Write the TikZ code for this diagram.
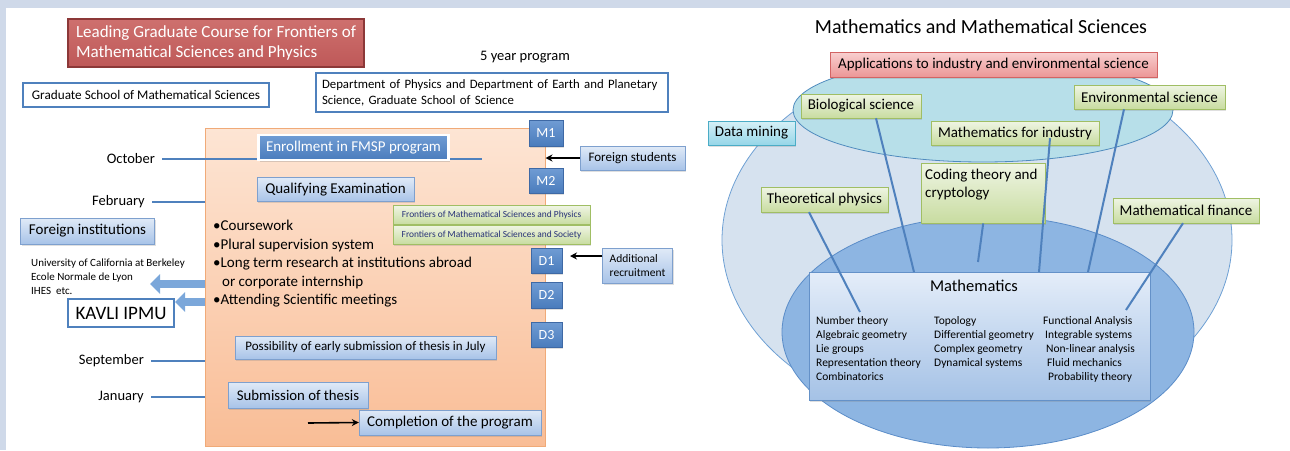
\documentclass[tikz,border=0pt]{standalone}
\usepackage{fontspec}
\setmainfont{Carlito}
\usepackage{tikz}
\usetikzlibrary{arrows.meta,shadows}

\definecolor{band}{RGB}{207,217,233}
\definecolor{lineblue}{RGB}{79,129,189}
\definecolor{ltop}{RGB}{224,234,247}
\definecolor{lbot}{RGB}{168,195,232}
\definecolor{lbord}{RGB}{126,160,206}
\definecolor{dtop}{RGB}{112,156,212}
\definecolor{dbot}{RGB}{74,124,188}
\definecolor{dbord}{RGB}{62,105,165}
\definecolor{otop}{RGB}{253,229,212}
\definecolor{obot}{RGB}{249,189,150}
\definecolor{obord}{RGB}{240,170,120}
\definecolor{gtop}{RGB}{239,245,228}
\definecolor{gbot}{RGB}{200,220,160}
\definecolor{gbord}{RGB}{160,190,100}
\definecolor{rtop}{RGB}{206,112,110}
\definecolor{rbot}{RGB}{190,88,88}
\definecolor{rbord}{RGB}{140,56,56}
\definecolor{ptop}{RGB}{248,208,208}
\definecolor{pbot}{RGB}{236,150,150}
\definecolor{pbord}{RGB}{210,100,100}
\definecolor{ctop}{RGB}{214,240,247}
\definecolor{cbot}{RGB}{150,214,232}
\definecolor{cbord}{RGB}{75,172,198}
\definecolor{mtop}{RGB}{228,237,249}
\definecolor{mbot}{RGB}{165,194,230}
\definecolor{mbord}{RGB}{100,145,200}
\definecolor{outerfill}{RGB}{214,226,239}
\definecolor{outerdraw}{RGB}{110,160,212}
\definecolor{cyanfill}{RGB}{183,223,233}
\definecolor{cyandraw}{RGB}{80,140,190}
\definecolor{innerfill}{RGB}{141,181,226}
\definecolor{innerdraw}{RGB}{90,140,200}
\definecolor{arrowfill}{RGB}{123,167,218}
\definecolor{navytext}{RGB}{40,50,120}

\newcommand\fsz[2]{\fontsize{#1}{#2}\selectfont}

\begin{document}
\begin{tikzpicture}[x=1pt, y=-1pt,
    every node/.style={inner sep=0pt},
    >={Stealth[length=7pt,width=7pt]},
    basebox/.style={draw, rectangle, inner sep=3pt,
      drop shadow={opacity=.25, shadow xshift=1pt, shadow yshift=-1.5pt}},
    lbox/.style={basebox, draw=lbord, top color=ltop, bottom color=lbot},
    dbox/.style={basebox, draw=dbord, top color=dtop, bottom color=dbot,
      text=white, font=\fsz{14}{17}},
    gbox/.style={basebox, draw=gbord, top color=gtop, bottom color=gbot},
    wbox/.style={draw=lineblue, line width=1.5pt, fill=white, inner sep=3pt},
    cbox/.style={basebox, draw=cbord, top color=ctop, bottom color=cbot},
    pbox/.style={basebox, draw=pbord, top color=ptop, bottom color=pbot},
    mbox/.style={basebox, draw=mbord, top color=mtop, bottom color=mbot},
    month/.style={font=\fsz{14.5}{17}, inner xsep=7pt},
    tline/.style={draw=lineblue, line width=2pt},
    link/.style={draw=lineblue, line width=2pt},
    blockarr/.style={draw=arrowfill, line width=8pt,
      -{Triangle[length=10pt,width=19pt]}},
    pointer/.style={->, line width=1.6pt}]

  \useasboundingbox (0,0) rectangle (1290,450);
  \fill[band] (0,0) rectangle (1290,8);
  \fill[band] (0,0) rectangle (6,450);

  % left: the course
  \node[draw=rbord, line width=1.2pt, top color=rtop, bottom color=rbot,
    text=white, align=left, font=\fsz{17}{20},
    minimum width=296pt, minimum height=48pt] (title) at (216,43)
    {Leading Graduate Course for Frontiers of\\Mathematical Sciences and Physics};
  \node[font=\fsz{14.5}{17}] (years) at (525,57) {5 year program};
  \node[wbox, font=\fsz{13.2}{15}, minimum width=246pt, minimum height=24pt]
    (gsms) at (146,95) {Graduate School of Mathematical Sciences};
  \node[wbox, font=\fsz{12.8}{16}, align=left, text width=340pt,
    minimum width=352pt, minimum height=39pt] (gss) at (492,92.5)
    {Department of Physics and Department of Earth and Planetary\\Science, Graduate School of Science};

  \node[draw=obord, line width=1pt, top color=otop, bottom color=obot,
    minimum width=340pt, minimum height=318pt] (prog) at (375,287) {};

  % months
  \node[month, anchor=east] (oct) at (162,159) {October};
  \coordinate (octEnd) at (482,159);
  \draw[tline] (oct.east) -- (octEnd);
  \node[month, anchor=east] (feb) at (152,202) {February};
  \draw[tline] (feb.east) -- (feb.east -| prog.west);
  \node[month, anchor=east] (sep) at (151,361) {September};
  \draw[tline] (sep.east) -- (sep.east -| prog.west);
  \node[month, anchor=east] (jan) at (151,397) {January};
  \draw[tline] (jan.east) -- (jan.east -| prog.west);

  \node[draw=white, line width=2.5pt, top color=dtop, bottom color=dbot,
    text=white, font=\fsz{15}{18}, minimum width=190pt, minimum height=25pt,
    drop shadow={opacity=.3, shadow xshift=1pt, shadow yshift=-1.5pt}]
    (enr) at (353.5,147.5) {Enrollment in FMSP program};
  \node[lbox, font=\fsz{15}{18}, minimum width=157pt, minimum height=24pt]
    (qual) at (335.5,189.5) {Qualifying Examination};

  \node[align=left, anchor=west, font=\fsz{15}{18.5}] (items) at (213,264)
    {\textbullet Coursework\\\textbullet Plural supervision system\\
     \textbullet Long term research at institutions abroad\\
     \hspace{9pt}or corporate internship\\\textbullet Attending Scientific meetings};

  % years
  \node[dbox, minimum width=34pt, minimum height=26pt] (m1) at (546,133) {M1};
  \node[dbox, minimum width=34pt, minimum height=25pt] (m2) at (546,180.5) {M2};
  \node[dbox, minimum width=31pt, minimum height=25pt] (d1) at (546.5,260.5) {D1};
  \node[dbox, minimum width=31pt, minimum height=26pt] (d2) at (546.5,295) {D2};
  \node[dbox, minimum width=31pt, minimum height=25pt] (d3) at (546.5,334.5) {D3};

  \node[gbox, text=navytext, font=\fsz{9.4}{11}, minimum width=197pt, minimum height=19pt]
    (fphys) at (491.5,215) {Frontiers of Mathematical Sciences and Physics};
  \node[gbox, text=navytext, font=\fsz{9.4}{11}, minimum width=197pt, minimum height=19pt]
    (fsoc) at (491.5,234.5) {Frontiers of Mathematical Sciences and Society};

  \node[lbox, font=\fsz{13}{16}, minimum width=105pt, minimum height=24pt]
    (fstud) at (632.5,158) {Foreign students};
  \draw[pointer] (fstud.west) -- (fstud.west -| prog.east);
  \node[lbox, align=left, font=\fsz{11.5}{14}, minimum width=70pt, minimum height=35pt]
    (addr) at (637.5,265.5) {Additional\\recruitment};
  \coordinate (addrTip) at (570,256);
  \draw[pointer] (addr.west |- addrTip) -- (addrTip);

  % abroad
  \node[lbox, font=\fsz{15}{18}, minimum width=134pt, minimum height=26pt]
    (finst) at (87.5,231) {Foreign institutions};
  \node[align=left, anchor=west, font=\fsz{11}{14}] (univ) at (31,277)
    {University of California at Berkeley\\Ecole Normale de Lyon\\IHES\ \ etc.};
  \coordinate (univTip) at (150,284);
  \draw[blockarr] (prog.west |- univTip) -- (univTip);
  \coordinate (kavliTip) at (175,302);
  \draw[blockarr] (prog.west |- kavliTip) -- (kavliTip);
  \node[wbox, font=\fsz{19}{22}, minimum width=106pt, minimum height=28pt]
    (kavli) at (121,313) {KAVLI IPMU};

  \node[lbox, font=\fsz{13}{15}, minimum width=261pt, minimum height=23pt]
    (early) at (365.5,347.5) {Possibility of early submission of thesis in July};
  \node[lbox, font=\fsz{14.8}{17}, minimum width=140pt, minimum height=26pt]
    (subm) at (298,395) {Submission of thesis};
  \node[lbox, font=\fsz{15}{17}, minimum width=182pt, minimum height=25pt]
    (compl) at (450,422.5) {Completion of the program};
  \coordinate (complTail) at (308,423);
  \draw[pointer] (complTail) -- (compl.west);

  % right: the fields
  \node[font=\fsz{20}{24}] (rtitle) at (981,27) {Mathematics and Mathematical Sciences};
  \draw[draw=outerdraw, fill=outerfill, line width=.8pt]
    (977,240) ellipse [x radius=255pt, y radius=185pt];
  \draw[draw=cyandraw, fill=cyanfill, line width=.8pt]
    (983,110) ellipse [x radius=190pt, y radius=52pt];
  \draw[draw=innerdraw, fill=innerfill, line width=.8pt]
    (988,332) ellipse [x radius=206pt, y radius=116pt];

  \node[pbox, font=\fsz{15}{17}, minimum width=327pt, minimum height=25pt]
    (apps) at (993.5,64.5) {Applications to industry and environmental science};

  \node[mbox, minimum width=341pt, minimum height=128pt] (math) at (979.5,336) {};
  \node[font=\fsz{16.5}{20}] (mtitle) at (974,286) {Mathematics};
  \node[align=left, anchor=north west, font=\fsz{11.5}{14}] (col1) at (816,316)
    {Number theory\\Algebraic geometry\\Lie groups\\Representation theory\\Combinatorics};
  \node[align=left, anchor=north west, font=\fsz{11.5}{14}] (col2) at (934,316)
    {Topology\\Differential geometry\\Complex geometry\\Dynamical systems};
  \node[align=left, anchor=north west, font=\fsz{11.5}{14}] (col3) at (1043,316)
    {Functional Analysis\\\hspace{2pt}Integrable systems\\\hspace{3pt}Non-linear analysis\\
     \hspace{4pt}Fluid mechanics\\\hspace{5pt}Probability theory};

  \node[gbox, font=\fsz{15}{17}, minimum width=120pt, minimum height=24pt]
    (bio) at (861,106) {Biological science};
  \node[gbox, font=\fsz{15}{17}, minimum width=151pt, minimum height=24pt]
    (env) at (1149.5,97) {Environmental science};
  \node[gbox, font=\fsz{15}{17}, minimum width=168pt, minimum height=24pt]
    (mfi) at (1015,133) {Mathematics for industry};
  \node[cbox, font=\fsz{15}{17}, minimum width=87pt, minimum height=24pt]
    (dmine) at (751.5,133) {Data mining};
  \node[gbox, font=\fsz{15}{18}, align=left, anchor=north west,
    minimum width=124pt, minimum height=60pt] (code) at (921,163)
    {\parbox[t][48pt][t]{116pt}{Coding theory and\\cryptology}};
  \node[gbox, font=\fsz{15}{17}, minimum width=127pt, minimum height=25pt]
    (theo) at (824.5,199.5) {Theoretical physics};
  \node[gbox, font=\fsz{15}{17}, minimum width=146pt, minimum height=25pt]
    (fin) at (1186,210.5) {Mathematical finance};

  \coordinate (bioEnd) at (914,272);
  \coordinate (mfiEnd) at (1039,272);
  \coordinate (envEnd) at (1088,272);
  \coordinate (codeEnd) at (978,262);
  \coordinate (theoEnd) at (860,312);
  \coordinate (finEnd) at (1126,310);
  \draw[link] ([xshift=15pt]bio.south) -- (bioEnd);
  \draw[link] ([xshift=35pt,yshift=7pt]mfi.south) -- (mfiEnd);
  \draw[link] ([xshift=-25.5pt]env.south) -- (envEnd);
  \draw[link] (code.south) -- (codeEnd);
  \draw[link] ([xshift=-15.5pt]theo.south) -- (theoEnd);
  \draw[link] ([xshift=-3pt]fin.south) -- (finEnd);
\end{tikzpicture}
\end{document}
